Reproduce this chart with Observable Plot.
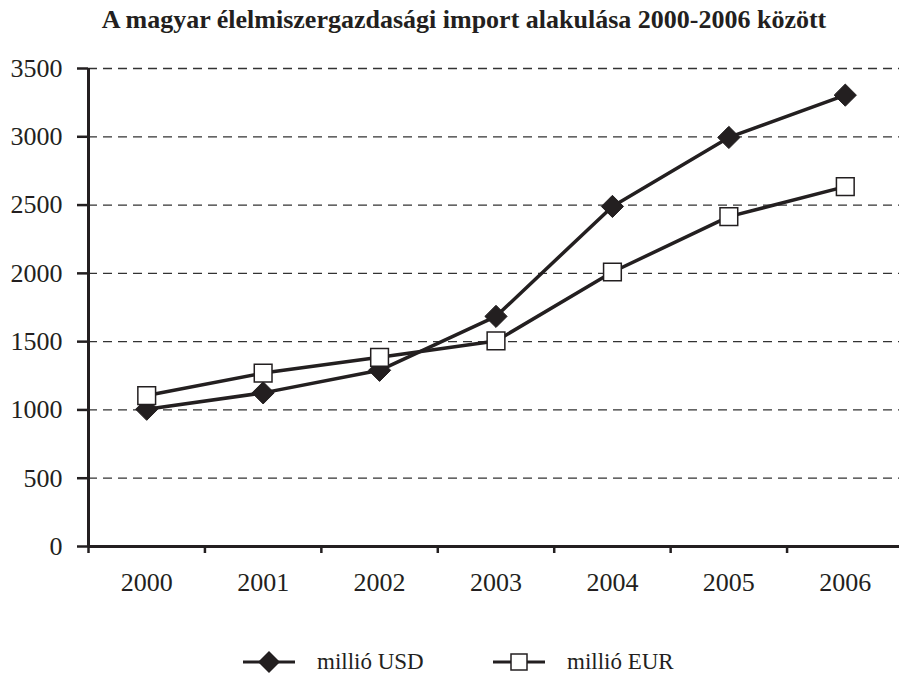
<!DOCTYPE html>
<html>
<head>
<meta charset="utf-8">
<script src="https://cdn.jsdelivr.net/npm/d3@7"></script>
<script src="https://cdn.jsdelivr.net/npm/@observablehq/plot@0.6"></script>
<style>
  html, body { margin: 0; padding: 0; background: white; }
  #wrap { position: relative; width: 899px; height: 677px; background: white; font-family: 'Liberation Serif', 'Times New Roman', serif; color: #231f20; }
  #title { position: absolute; left: 0; top: 0; width: 899px; height: 40px; line-height: 40px; text-align: center; padding-left: 29px; box-sizing: border-box; font-weight: bold; font-size: 26px; color: #231f20; font-family: 'Liberation Serif', serif; }
  #chart { position: absolute; left: 0; top: 40px; }
  #legend { position: absolute; left: 0; top: 645px; width: 899px; height: 34px; }
  .item { position: absolute; top: 0; height: 34px; display: flex; align-items: center; font-size: 23px; font-family: 'Liberation Serif', serif; }
  .item svg { margin-right: 22px; }
</style>
</head>
<body>
<div id="wrap">
  <div id="title">A magyar élelmiszergazdasági import alakulása 2000-2006 között</div>
  <div id="chart"></div>
  <div id="legend">
    <div class="item" style="left:243px"><svg width="52" height="34"><line x1="0" x2="52" y1="17" y2="17" stroke="#231f20" stroke-width="3"/><path d="M26,6L37,17L26,28L15,17Z" fill="#231f20"/></svg><span>millió USD</span></div>
    <div class="item" style="left:493px"><svg width="52" height="34"><line x1="0" x2="52" y1="17" y2="17" stroke="#231f20" stroke-width="3"/><rect x="18" y="9" width="16" height="16" fill="white" stroke="#231f20" stroke-width="1.5"/></svg><span>millió EUR</span></div>
  </div>
</div>
<script>
const years = [2000, 2001, 2002, 2003, 2004, 2005, 2006];
const usd = [1005, 1125, 1290, 1685, 2490, 2995, 3305];
const eur = [1105, 1270, 1385, 1505, 2010, 2415, 2635];
const yTicks = [0, 500, 1000, 1500, 2000, 2500, 3000, 3500];
const boundaries = [1999.5, 2000.5, 2001.5, 2002.5, 2003.5, 2004.5, 2005.5];

const usdData = years.map((year, i) => ({year, value: usd[i]}));
const eurData = years.map((year, i) => ({year, value: eur[i]}));
const ink = "#231f20";

const chart = Plot.plot({
  width: 899,
  height: 580,
  marginTop: 28,
  marginBottom: 74,
  marginLeft: 88,
  marginRight: 0,
  style: {fontFamily: "'Liberation Serif', 'Times New Roman', serif", fontSize: "26px", color: ink, background: "white"},
  x: {type: "linear", domain: [1999.5, 2006.5], range: [88, 903], axis: null},
  y: {domain: [0, 3500], axis: null},
  marks: [
    Plot.gridY(yTicks.filter(d => d > 0), {stroke: "#333", strokeOpacity: 1, strokeWidth: 1.3, strokeDasharray: "9,6"}),
    Plot.axisY(yTicks, {tickSize: 11, tickPadding: 15, strokeWidth: 2.5, label: null, tickFormat: "d", fontSize: 26}),
    Plot.axisX(boundaries, {tickSize: 7, tickFormat: () => "", strokeWidth: 2.5, label: null}),
    Plot.axisX(years, {tickSize: 0, tickPadding: 26, tickFormat: "d", label: null, fontSize: 26}),
    Plot.ruleY([0], {stroke: ink, strokeWidth: 3}),
    Plot.ruleX([1999.5], {y1: 0, y2: 3500, stroke: ink, strokeWidth: 3}),
    Plot.line(usdData, {x: "year", y: "value", stroke: ink, strokeWidth: 3.5}),
    Plot.line(eurData, {x: "year", y: "value", stroke: ink, strokeWidth: 3.5}),
    Plot.dot(usdData, {x: "year", y: "value", symbol: "diamond2", r: 10, fill: ink, stroke: ink, strokeWidth: 1}),
    Plot.dot(eurData, {x: "year", y: "value", symbol: "square", r: 10, fill: "white", stroke: ink, strokeWidth: 1.5})
  ]
});
document.getElementById("chart").appendChild(chart);
</script>
</body>
</html>
